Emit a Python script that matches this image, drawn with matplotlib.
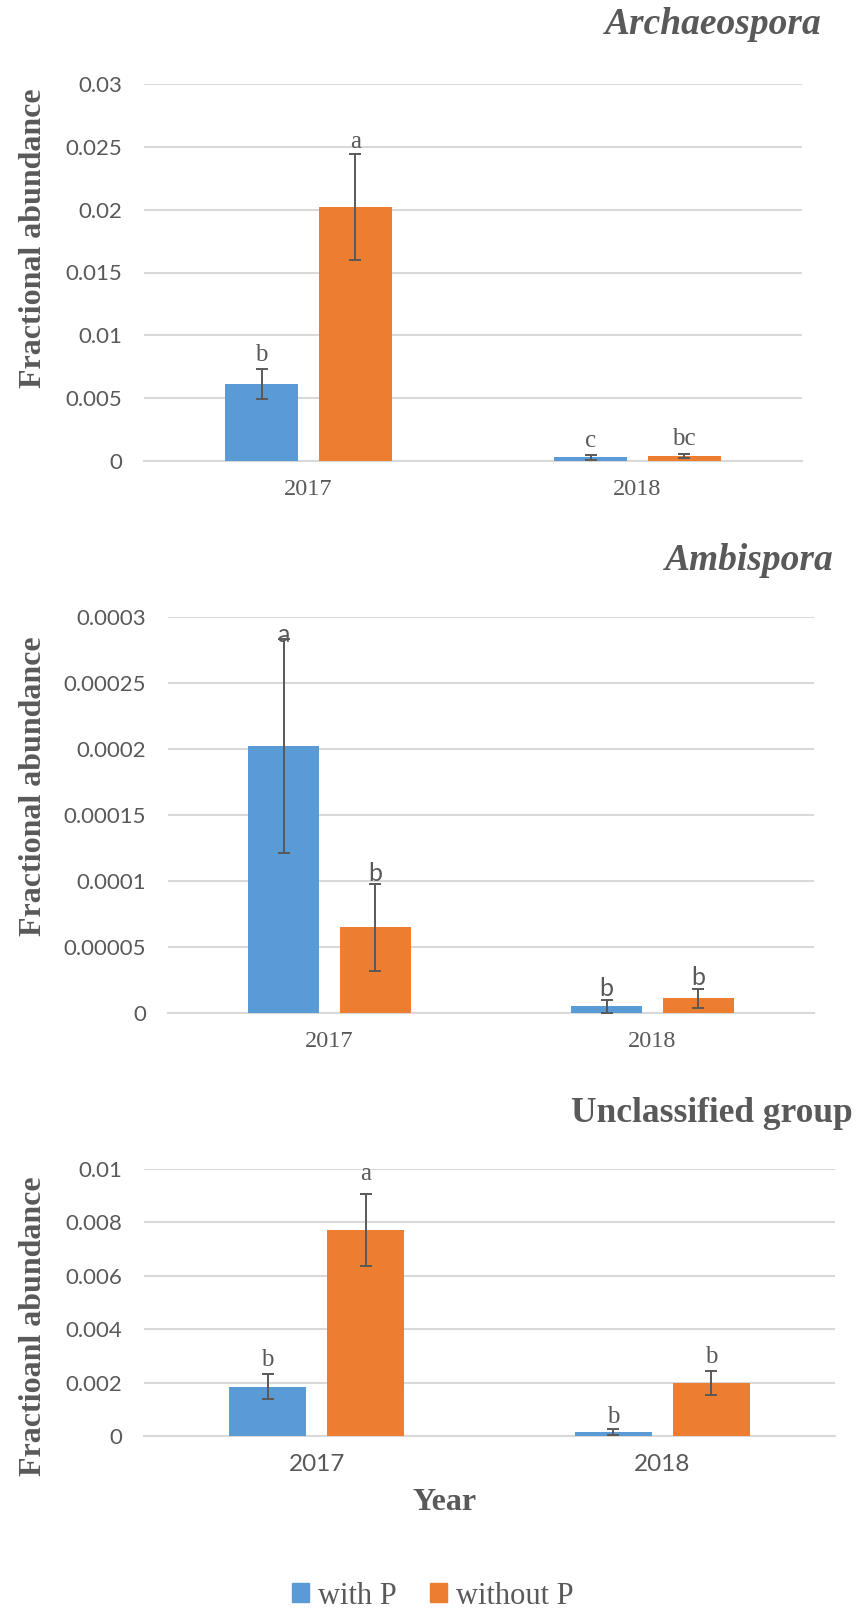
# -*- coding: utf-8 -*-
# Fractional abundance of AMF genera, three stacked bar panels
import matplotlib as mpl
import matplotlib.pyplot as plt
from matplotlib.patches import Patch
import numpy as np

mpl.rcParams['font.family'] = 'Liberation Serif'

# data
years = ['2017', '2018']

arch_with = [0.0061, 0.0003]
arch_with_err = [0.0012, 0.0002]
arch_without = [0.0202, 0.0004]
arch_without_err = [0.0042, 0.00015]
arch_letters = [['b', 'c'], ['a', 'bc']]
arch_ticks = [0, 0.005, 0.01, 0.015, 0.02, 0.025, 0.03]
arch_ticklabels = ['0', '0.005', '0.01', '0.015', '0.02', '0.025', '0.03']

amb_with = [0.000202, 0.000005]
amb_with_err = [0.000081, 0.000005]
amb_without = [0.000065, 0.000011]
amb_without_err = [0.000033, 0.0000075]
amb_letters = [['a', 'b'], ['b', 'b']]
amb_ticks = [0, 0.00005, 0.0001, 0.00015, 0.0002, 0.00025, 0.0003]
amb_ticklabels = ['0', '0.00005', '0.0001', '0.00015', '0.0002', '0.00025', '0.0003']

uncl_with = [0.00185, 0.00015]
uncl_with_err = [0.00048, 0.0001]
uncl_without = [0.0077, 0.002]
uncl_without_err = [0.00135, 0.00045]
uncl_letters = [['b', 'b'], ['a', 'b']]
uncl_ticks = [0, 0.002, 0.004, 0.006, 0.008, 0.01]
uncl_ticklabels = ['0', '0.002', '0.004', '0.006', '0.008', '0.01']

series_names = ['with P', 'without P']

BLUE = '#5B9BD5'
ORANGE = '#ED7D31'
GREY = '#595959'
GRID = '#D9D9D9'
SERIF = 'Liberation Serif'
SANS = 'Lato'


def draw_panel(ax, vals, errs, letters, ticks, ticklabels, letter_font, year_font, pads):
    x = np.arange(len(years))
    width = 0.222
    offs = [-0.142, 0.142]
    colors = [BLUE, ORANGE]
    for i in range(2):
        ax.bar(x + offs[i], vals[i], width, color=colors[i], yerr=errs[i], zorder=3,
               error_kw=dict(ecolor=GREY, elinewidth=1.4, capsize=4.5, capthick=1.4, zorder=4))
        for j in range(len(x)):
            top = vals[i][j] + errs[i][j]
            ax.annotate(letters[i][j], (x[j] + offs[i], top), xytext=(0, pads[i][j]),
                        textcoords='offset pixels', ha='center', va='bottom',
                        fontsize=18, color=GREY, family=letter_font, zorder=5)
    ax.set_xlim(-0.5, 1.5)
    ax.set_ylim(0, ticks[-1])
    ax.set_yticks(ticks)
    ax.set_yticklabels(ticklabels, family=SANS, fontsize=16, color=GREY)
    ax.set_xticks(x)
    ax.set_xticklabels(years, family=year_font, fontsize=17.5, color=GREY)
    ax.tick_params(axis='both', length=0)
    ax.tick_params(axis='y', pad=16)
    ax.tick_params(axis='x', pad=13)
    ax.grid(axis='y', color=GRID, linewidth=1.5, zorder=0)
    for s in ['top', 'right', 'left']:
        ax.spines[s].set_visible(False)
    ax.spines['bottom'].set_color(GRID)
    ax.spines['bottom'].set_linewidth(1.5)


W, H = 856, 1611
fig = plt.figure(figsize=(W / 100, H / 100), dpi=100)


def box(l, r, t, b):
    return [l / W, 1 - b / H, (r - l) / W, (b - t) / H]


ax1 = fig.add_axes(box(144, 802, 84, 461))
ax2 = fig.add_axes(box(168, 814, 617, 1013))
ax3 = fig.add_axes(box(144, 835, 1169, 1436))

draw_panel(ax1, [arch_with, arch_without], [arch_with_err, arch_without_err], arch_letters,
           arch_ticks, arch_ticklabels, SERIF, SERIF, [[3, 3], [1, 4]])
draw_panel(ax2, [amb_with, amb_without], [amb_with_err, amb_without_err], amb_letters,
           amb_ticks, amb_ticklabels, SANS, SERIF, [[-7, 0], [-1, 0]])
draw_panel(ax3, [uncl_with, uncl_without], [uncl_with_err, uncl_without_err], uncl_letters,
           uncl_ticks, uncl_ticklabels, SERIF, SANS, [[3, 1], [9, 3]])

# titles
fig.text(822 / W, 1 - 25 / H, 'Archaeospora', ha='right', va='center', fontsize=27,
         fontweight='bold', style='italic', color=GREY, family=SERIF)
fig.text(834 / W, 1 - 560 / H, 'Ambispora', ha='right', va='center', fontsize=27,
         fontweight='bold', style='italic', color=GREY, family=SERIF)
fig.text(853 / W, 1 - 1113 / H, 'Unclassified group', ha='right', va='center', fontsize=25.5,
         fontweight='bold', color=GREY, family=SERIF)

# y labels
fig.text(34 / W, 1 - 238 / H, 'Fractional abundance', rotation=90, ha='center', va='center',
         fontsize=23, fontweight='bold', color=GREY, family=SERIF)
fig.text(34 / W, 1 - 786 / H, 'Fractional abundance', rotation=90, ha='center', va='center',
         fontsize=23, fontweight='bold', color=GREY, family=SERIF)
fig.text(34 / W, 1 - 1326 / H, 'Fractioanl abundance', rotation=90, ha='center', va='center',
         fontsize=23, fontweight='bold', color=GREY, family=SERIF)

# x label
fig.text(445 / W, 1 - 1502 / H, 'Year', ha='center', va='center', fontsize=23,
         fontweight='bold', color=GREY, family=SERIF)

# legend
handles = [Patch(color=BLUE), Patch(color=ORANGE)]
leg = fig.legend(handles, series_names, loc='center', bbox_to_anchor=(433 / W, 1 - 1596 / H),
                 ncol=2, frameon=False, handlelength=0.55, handleheight=0.55,
                 handletextpad=0.3, columnspacing=1.1, prop={'family': SERIF, 'size': 22})
for t in leg.get_texts():
    t.set_color(GREY)

fig.savefig('out.png', dpi=100)
